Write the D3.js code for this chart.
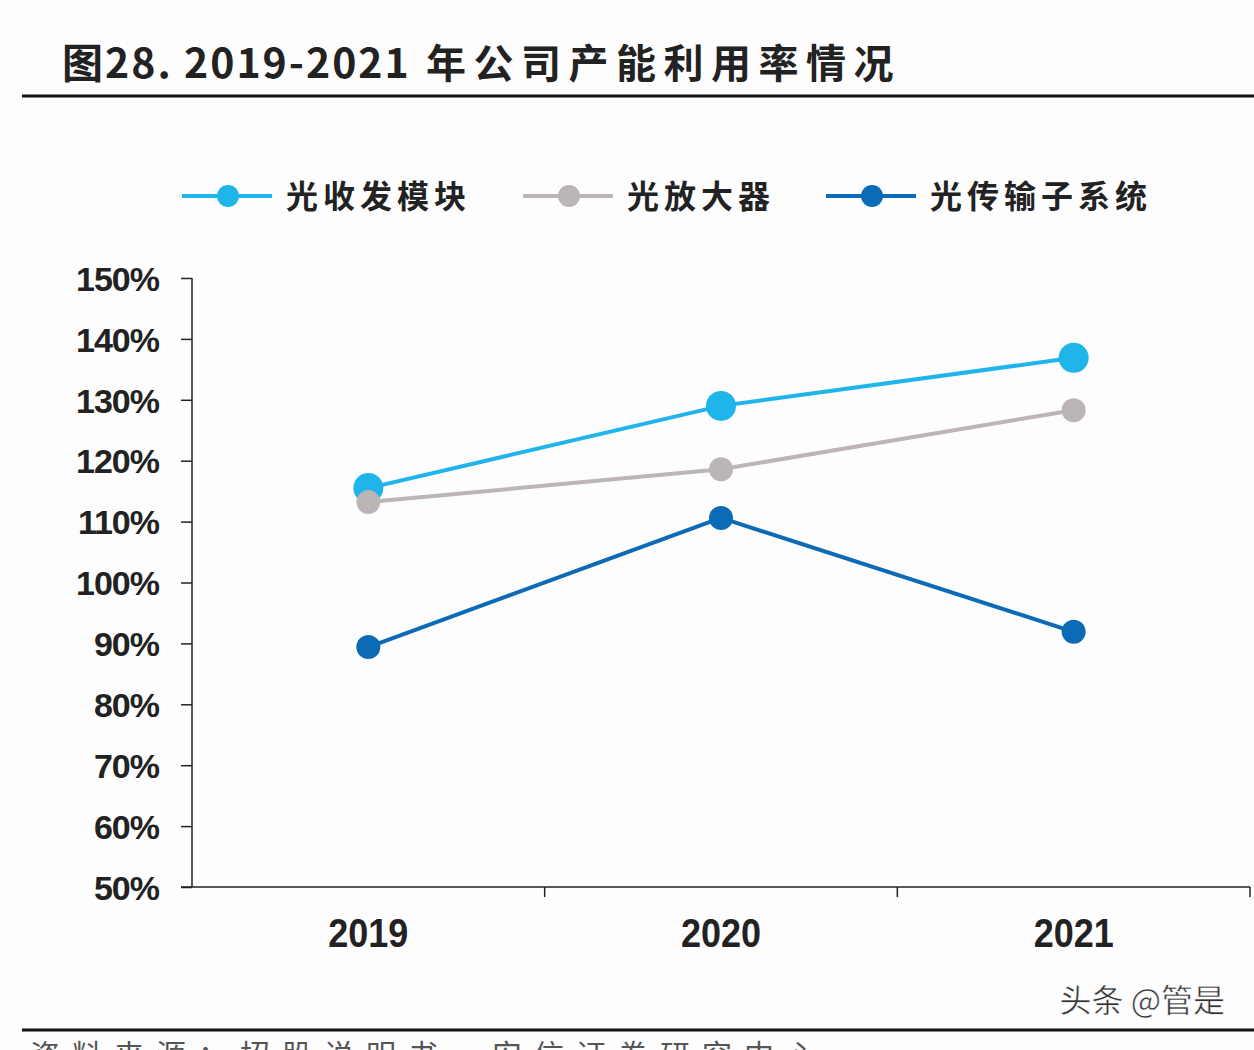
<!DOCTYPE html>
<html><head><meta charset="utf-8">
<script src="https://cdn.jsdelivr.net/npm/d3@7"></script>
<style>body{margin:0;background:#fff}svg{display:block}</style>
</head><body>
<script>
const years = ["2019","2020","2021"];
const seriesNames = ["光收发模块","光放大器","光传输子系统"];
const transceiver = [115.5, 129.0, 136.9];
const amplifier = [113.2, 118.6, 128.3];
const subsystem = [89.4, 110.6, 91.9];
const yTicks = [50,60,70,80,90,100,110,120,130,140,150];
const colors = ["#1fb4ea","#bbb5b5","#0d6bb6"];
const radii = [15, 12, 12];
const titleHead = "图28. 2019-2021";
const titleTail = "年公司产能利用率情况";
const sourceText = "资料来源：招股说明书，安信证券研究中心";
const watermark = "头条 @管是";

const W = 1254, H = 1050;
const svg = d3.select("body").append("svg").attr("width", W).attr("height", H);
svg.append("rect").attr("width", W).attr("height", H).attr("fill", "#fdfdfe");

// title
const t = svg.append("text").attr("x", 62).attr("y", 78)
  .attr("font-family", "'Noto Sans CJK SC', sans-serif").attr("font-weight", 700)
  .attr("font-size", 41).attr("fill", "#222");
t.append("tspan").attr("letter-spacing", 2).text(titleHead);
t.append("tspan").attr("x", 426).attr("letter-spacing", 7.5).attr("font-size", 40).text(titleTail);
svg.append("line").attr("x1", 22).attr("x2", W).attr("y1", 96).attr("y2", 96)
  .attr("stroke", "#111").attr("stroke-width", 3);

const x = d3.scaleBand().domain(years).range([192, 1250]);
const y = d3.scaleLinear().domain([50, 150]).range([887, 278]);

const data = [transceiver, amplifier, subsystem];

// axes
const yAxis = svg.append("g").attr("transform", "translate(192,0)")
  .call(d3.axisLeft(y).tickValues(yTicks).tickSize(11).tickFormat(d => d + "%"));
yAxis.select(".domain").attr("stroke", "#222").attr("stroke-width", 1.5).attr("d", "M0,278V887");
yAxis.selectAll(".tick line").attr("stroke", "#222").attr("stroke-width", 1.5);
yAxis.selectAll(".tick text").attr("x", -33).attr("dy", "0.36em")
  .attr("font-family", "'Liberation Sans', Arial, sans-serif").attr("font-weight", 700)
  .attr("font-size", 34).attr("fill", "#222").attr("letter-spacing", -1);

const xAxis = svg.append("g").attr("transform", "translate(0,887)")
  .call(d3.axisBottom(x).tickSize(0).tickFormat(d => d));
xAxis.select(".domain").attr("stroke", "#222").attr("stroke-width", 1.5).attr("d", "M181,0H1250");
xAxis.selectAll(".tick text").attr("y", 0).attr("dy", "0.36em")
  .attr("transform", "translate(0,45) scale(0.9,1.02)")
  .attr("font-family", "'Liberation Sans', Arial, sans-serif").attr("font-weight", 700)
  .attr("font-size", 40).attr("fill", "#222");
// category boundary ticks
xAxis.selectAll(".bnd").data(years).enter().append("line")
  .attr("x1", d => x(d) + x.bandwidth()).attr("x2", d => x(d) + x.bandwidth())
  .attr("y1", 0).attr("y2", 10).attr("stroke", "#222").attr("stroke-width", 1.5);

const cx = d => x(d) + x.bandwidth() / 2;
const line = d3.line().x((d, i) => cx(years[i])).y(d => y(d));

data.forEach((vals, s) => {
  const g = svg.append("g");
  g.append("path").datum(vals).attr("d", line).attr("fill", "none")
    .attr("stroke", colors[s]).attr("stroke-width", 4);
  g.selectAll("circle").data(vals).enter().append("circle")
    .attr("cx", (d, i) => cx(years[i])).attr("cy", d => y(d)).attr("r", radii[s])
    .attr("fill", colors[s]);
});

// legend
const legX = [182, 523, 826];
seriesNames.forEach((n, s) => {
  const g = svg.append("g").attr("transform", `translate(${legX[s]},196)`);
  g.append("line").attr("x1", 0).attr("x2", 90).attr("stroke", colors[s]).attr("stroke-width", 4);
  g.append("circle").attr("cx", 46).attr("r", 11).attr("fill", colors[s]);
  g.append("text").attr("x", 104).attr("dy", "0.36em")
    .attr("font-family", "'Noto Sans CJK SC', sans-serif").attr("font-weight", 700)
    .attr("font-size", 32).attr("fill", "#222").attr("letter-spacing", 5).text(n);
});

// watermark
svg.append("text").attr("x", 1225).attr("y", 1012).attr("text-anchor", "end")
  .attr("font-family", "'Noto Sans CJK SC', sans-serif").attr("font-size", 32)
  .attr("fill", "#333").attr("stroke", "#fff").attr("stroke-width", 0.5).text(watermark);

// bottom rule and source
svg.append("line").attr("x1", 22).attr("x2", W).attr("y1", 1030).attr("y2", 1030)
  .attr("stroke", "#111").attr("stroke-width", 3);
svg.append("text").attr("x", 30).attr("y", 1066)
  .attr("font-family", "'Noto Sans CJK SC', sans-serif").attr("font-size", 30)
  .attr("fill", "#555").attr("letter-spacing", 12).text(sourceText);
</script>
</body></html>
